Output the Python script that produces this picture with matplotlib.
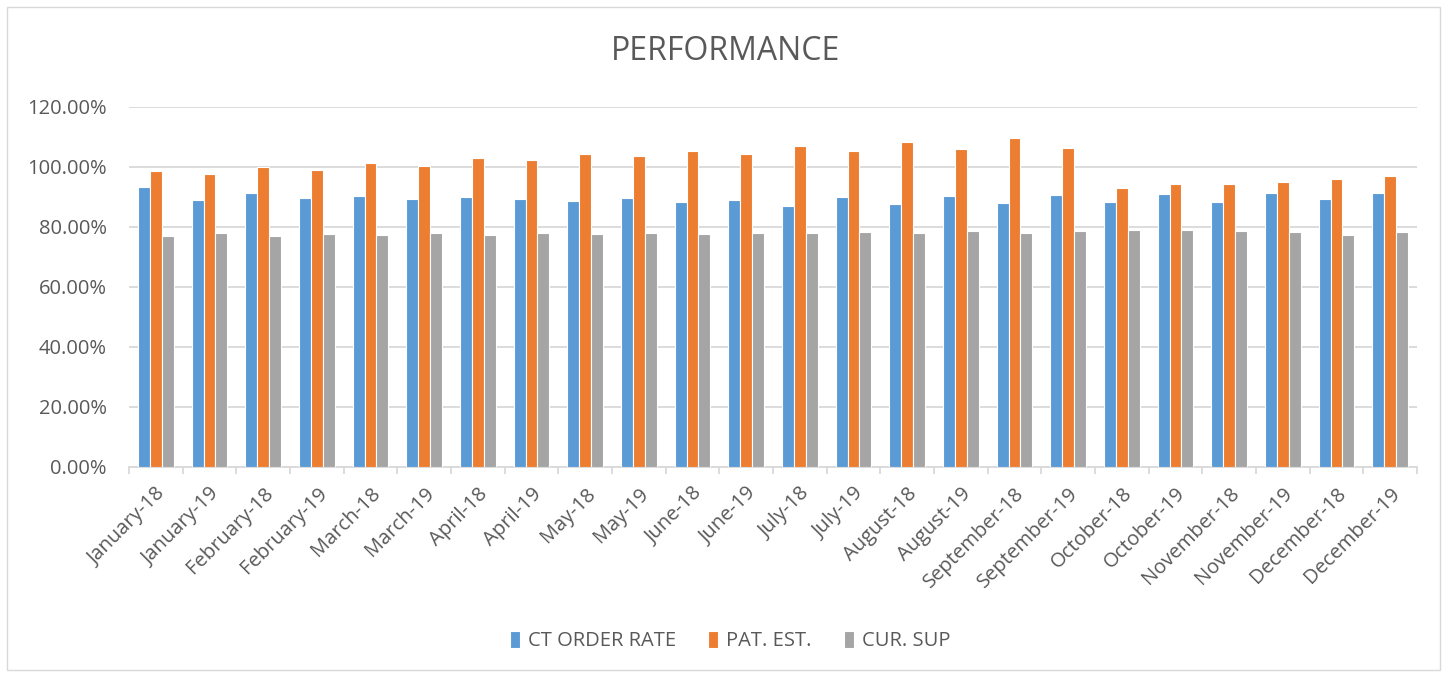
import matplotlib
matplotlib.use("Agg")
import matplotlib.pyplot as plt
import numpy as np
from matplotlib.ticker import FuncFormatter, FixedLocator
from matplotlib.patches import Rectangle

categories = ["January-18", "January-19", "February-18", "February-19", "March-18", "March-19",
              "April-18", "April-19", "May-18", "May-19", "June-18", "June-19",
              "July-18", "July-19", "August-18", "August-19", "September-18", "September-19",
              "October-18", "October-19", "November-18", "November-19", "December-18", "December-19"]
ct_order_rate = [93.1, 88.9, 91.1, 89.6, 90.3, 89.2, 89.8, 89.1, 88.6, 89.7, 88.1, 88.9,
                 86.9, 89.8, 87.7, 90.1, 87.8, 90.7, 88.2, 91.0, 88.3, 91.1, 89.3, 91.2]
pat_est = [98.7, 97.6, 99.9, 99.0, 101.1, 100.3, 102.9, 102.1, 104.2, 103.6, 105.4, 104.2,
           107.0, 105.1, 108.2, 105.9, 109.7, 106.2, 93.0, 94.1, 94.1, 94.9, 96.0, 97.0]
cur_sup = [76.9, 77.8, 76.9, 77.6, 77.3, 77.9, 77.4, 78.0, 77.6, 78.1, 77.7, 78.1,
           77.8, 78.4, 78.1, 78.6, 78.0, 78.6, 79.0, 79.0, 78.6, 78.2, 77.4, 78.2]
series_names = ["CT ORDER RATE", "PAT. EST.", "CUR. SUP"]
colors = ["#5B9BD5", "#ED7D31", "#A5A5A5"]

plt.rcParams['font.family'] = ['Open Sans', 'DejaVu Sans']
fig = plt.figure(figsize=(14.48, 6.77), dpi=100)
ax = fig.add_axes([129/1448, 1 - 467/677, (1417-129)/1448, (467-106.7)/677])

x = np.arange(len(categories))
w = 0.22
for i, (vals, name, c) in enumerate(zip([ct_order_rate, pat_est, cur_sup], series_names, colors)):
    ax.bar(x + (i - 1) * w, vals, width=w, color=c, edgecolor="white", linewidth=0.8,
           label=name, zorder=3)

ax.set_xlim(-0.5, len(categories) - 0.5)
ax.set_ylim(0, 120)
ax.set_yticks(np.arange(0, 121, 20))
ax.yaxis.set_major_formatter(FuncFormatter(lambda v, p: f"{v:.2f}%"))
ax.grid(axis="y", color="#D9D9D9", linewidth=1.3, zorder=0)
ax.set_axisbelow(True)
for s in ["top", "right", "left"]:
    ax.spines[s].set_visible(False)
ax.spines["bottom"].set_color("#D9D9D9")
ax.spines["bottom"].set_linewidth(1.3)
ax.tick_params(axis="y", length=0, labelsize=14.5, labelcolor="#595959", pad=16)
ax.set_xticks(x)
ax.set_xticklabels(categories, rotation=45, ha="right", rotation_mode="anchor")
ax.tick_params(axis="x", which="major", length=0, labelsize=14.5, labelcolor="#595959", pad=12)
ax.xaxis.set_minor_locator(FixedLocator(np.arange(-0.5, len(categories), 1.0)))
ax.tick_params(axis="x", which="minor", length=5, width=1.3, color="#D9D9D9", direction="out")

fig.text(726/1448, 1 - 52/677, "PERFORMANCE", ha="center", va="center", fontsize=23, color="#595959")

leg = fig.legend(loc="center", bbox_to_anchor=(730/1448, 1 - 641/677), ncol=3, frameon=False,
                 fontsize=14.5, handlelength=0.5, handleheight=0.9, columnspacing=1.6,
                 handletextpad=0.4)
for t in leg.get_texts():
    t.set_color("#595959")

fig.patches.append(Rectangle((7/1448, 7/677), 1433/1448, 663/677, transform=fig.transFigure,
                             fill=False, edgecolor="#D9D9D9", linewidth=1))

fig.savefig("out.png", dpi=100)
